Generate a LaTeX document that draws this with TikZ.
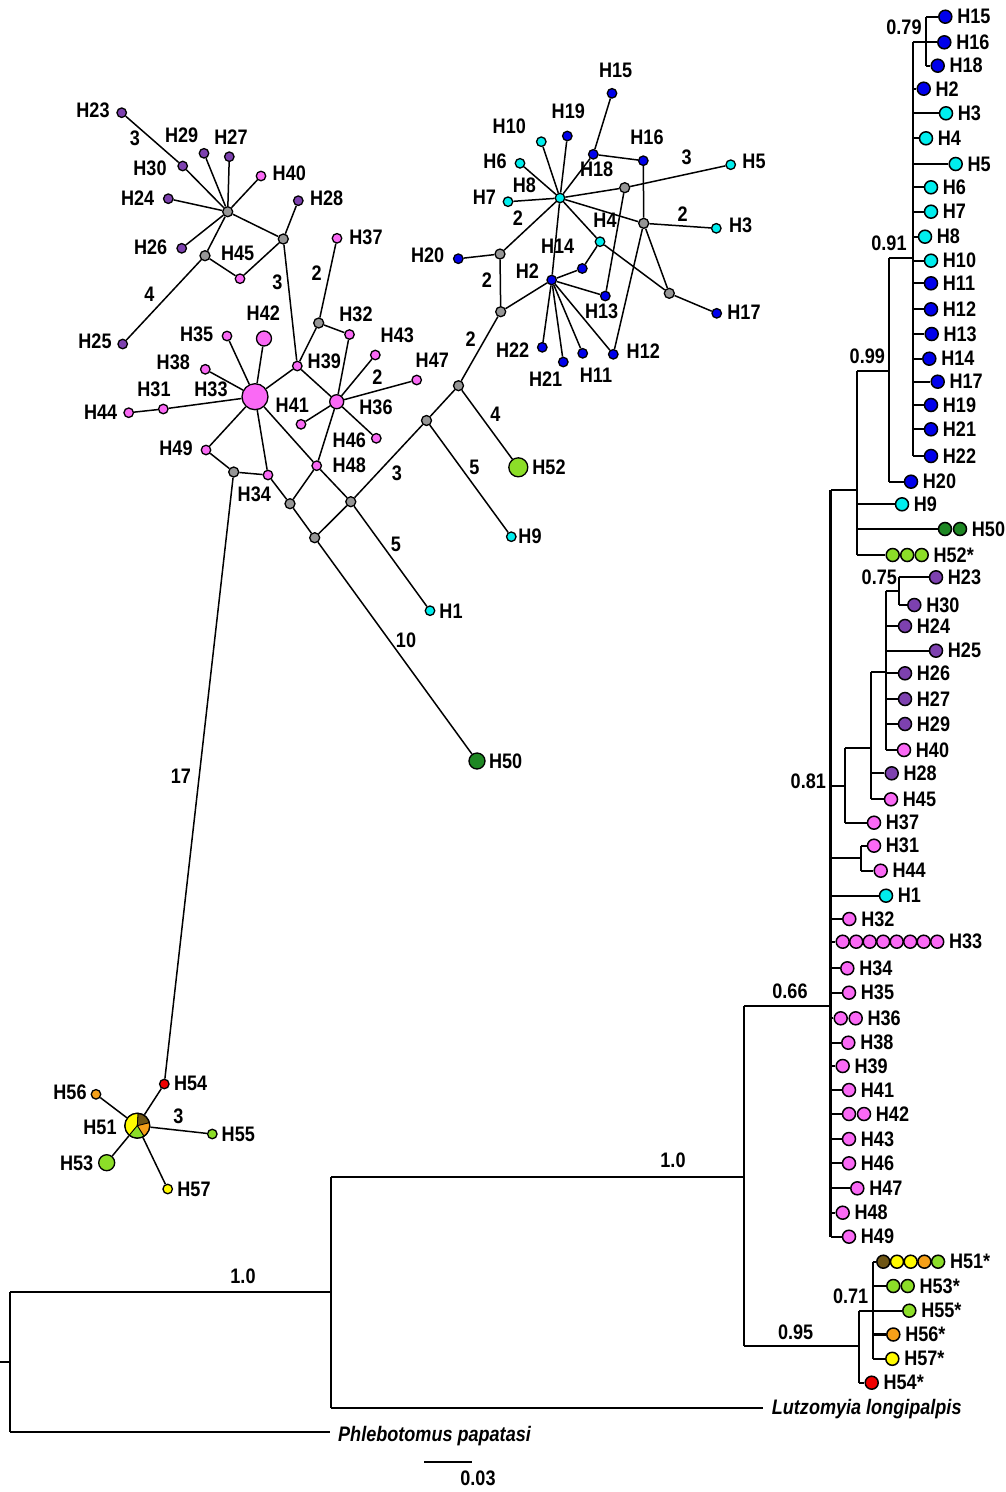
\documentclass[tikz,border=0pt]{standalone}
\usepackage{fontspec}
\newfontfamily\labfont{Liberation Sans}[FakeStretch=0.86]
\usetikzlibrary{backgrounds}
\definecolor{cblue}{RGB}{0,0,235}
\definecolor{ccyan}{RGB}{0,238,238}
\definecolor{cpurple}{RGB}{125,65,175}
\definecolor{cpink}{RGB}{250,105,245}
\definecolor{cgrey}{RGB}{150,150,150}
\definecolor{clime}{RGB}{140,222,40}
\definecolor{cdkgreen}{RGB}{30,135,35}
\definecolor{cred}{RGB}{240,0,0}
\definecolor{corange}{RGB}{245,160,25}
\definecolor{cyellow}{RGB}{255,250,0}
\definecolor{cbrown}{RGB}{110,85,20}
\tikzset{
  lbl/.style={font=\labfont\bfseries\fontsize{21}{23}\selectfont, inner sep=0pt},
  ilbl/.style={font=\labfont\bfseries\itshape\fontsize{21}{23}\selectfont, inner sep=0pt},
  hap/.style={circle, draw=black, line width=1.3pt, inner sep=0pt, minimum size=9.5pt},
  medv/.style={hap, fill=cgrey, minimum size=10pt},
  tipn/.style={circle, draw=black, line width=1.5pt, inner sep=0pt, minimum size=13pt},
  link/.style={line width=1.5pt},
  branch/.style={line width=2.3pt},
}
\begin{document}
\begin{tikzpicture}[x=1pt,y=-1pt]
\useasboundingbox (0,0) rectangle (1005,1492);

% ---------------- haplotype network: purple / pink part ----------------
\node[hap, fill=cpurple] (nH23) at (121.7,112.7) {};
\node[hap, fill=cpurple] (nH29) at (204,153.3) {};
\node[hap, fill=cpurple] (nH27) at (229.3,156.7) {};
\node[hap, fill=cpurple] (nH30) at (182.7,166) {};
\node[hap, fill=cpink]   (nH40) at (261,176) {};
\node[hap, fill=cpurple] (nH24) at (168.3,198.7) {};
\node[hap, fill=cpurple] (nH28) at (298.3,200.7) {};
\node[medv] (mA) at (227.7,211.7) {};
\node[hap, fill=cpurple] (nH26) at (181.7,248.3) {};
\node[medv] (mB) at (205,255.7) {};
\node[hap, fill=cpink]   (nH45) at (240,278.7) {};
\node[medv] (mC) at (283.3,239) {};
\node[hap, fill=cpink]   (nH37) at (337,238.3) {};
\node[hap, fill=cpurple] (nH25) at (122.7,344) {};
\node[medv] (mD) at (318.7,323) {};
\node[hap, fill=cpink]   (nH32) at (349.5,334.5) {};
\node[hap, fill=cpink]   (nH35) at (227,336) {};
\node[hap, fill=cpink, minimum size=15pt] (nH42) at (264,338.5) {};
\node[hap, fill=cpink]   (nH38) at (205.3,369.3) {};
\node[hap, fill=cpink, minimum size=26pt] (nH33) at (255,396.7) {};
\node[hap, fill=cpink]   (nH31) at (163.3,409) {};
\node[hap, fill=cpink]   (nH44) at (128.7,412.7) {};
\node[hap, fill=cpink]   (nH39) at (297.3,366) {};
\node[hap, fill=cpink]   (nH43) at (375.3,355) {};
\node[hap, fill=cpink]   (nH47) at (416.7,380) {};
\node[hap, fill=cpink, minimum size=14pt] (nH36) at (336.7,401.7) {};
\node[hap, fill=cpink]   (nH41) at (301,424.3) {};
\node[hap, fill=cpink]   (nH46) at (376.3,438.3) {};
\node[hap, fill=cpink]   (nH49) at (206,450) {};
\node[medv] (mE) at (233.7,472) {};
\node[hap, fill=cpink]   (nH34) at (268,475) {};
\node[hap, fill=cpink]   (nH48) at (316.7,465.7) {};
\node[medv] (mF) at (290,503.7) {};
\node[medv] (mG) at (350.8,501.7) {};
\node[medv] (mH) at (314.7,537.7) {};
\node[medv] (mI) at (426.5,420.5) {};
\node[medv] (mJ) at (458.5,385.7) {};
\node[hap, fill=clime, minimum size=19pt] (nH52) at (518.3,467.3) {};
\node[hap, fill=ccyan]   (nH9) at (511.3,536.7) {};
\node[hap, fill=ccyan]   (nH1) at (430,610.7) {};
\node[hap, fill=cdkgreen, minimum size=16pt] (nH50) at (477,761) {};

% ---------------- haplotype network: blue / cyan part ----------------
\node[hap, fill=cblue] (nH15) at (612,93.3) {};
\node[hap, fill=cblue] (nH19) at (567.3,136) {};
\node[hap, fill=ccyan] (nH10) at (541.3,141.7) {};
\node[hap, fill=ccyan] (nH6)  at (520,163.3) {};
\node[hap, fill=cblue] (nH18) at (593.3,154.3) {};
\node[hap, fill=cblue] (nH16) at (643.3,160.7) {};
\node[hap, fill=ccyan] (nH5)  at (730.7,164.7) {};
\node[hap, fill=ccyan] (nH8)  at (560,198) {};
\node[medv] (mK) at (624.7,187.7) {};
\node[hap, fill=ccyan] (nH7)  at (508,201.7) {};
\node[medv] (mL) at (643.7,223.3) {};
\node[hap, fill=ccyan] (nH3)  at (716.3,228.3) {};
\node[hap, fill=ccyan] (nH4)  at (600,241.7) {};
\node[hap, fill=cblue] (nH14) at (582.3,268.5) {};
\node[medv] (mM) at (500,254) {};
\node[hap, fill=cblue] (nH20) at (458.3,258.7) {};
\node[hap, fill=cblue] (nH2)  at (551.7,280) {};
\node[hap, fill=cblue] (nH13) at (605.3,296) {};
\node[medv] (mN) at (669.3,293.3) {};
\node[hap, fill=cblue] (nH17) at (716.7,313.3) {};
\node[medv] (mO) at (500.7,311.7) {};
\node[hap, fill=cblue] (nH22) at (542.3,347.3) {};
\node[hap, fill=cblue] (nH21) at (563.3,362) {};
\node[hap, fill=cblue] (nH11) at (582.7,353.3) {};
\node[hap, fill=cblue] (nH12) at (613.3,354.3) {};

% ---------------- haplotype network: lower group ----------------
\node[hap, fill=cred]    (nH54) at (164.3,1084) {};
\node[hap, fill=corange] (nH56) at (96,1094.3) {};
\coordinate (pie) at (137.3,1125.7);
\begin{scope}[draw=black, line width=0.8pt]
  \filldraw[fill=cyellow] (pie) -- ++(130:12.5) arc[start angle=130, end angle=274, radius=12.5] -- cycle;
  \filldraw[fill=cbrown]  (pie) -- ++(274:12.5) arc[start angle=274, end angle=346, radius=12.5] -- cycle;
  \filldraw[fill=corange] (pie) -- ++(-14:12.5) arc[start angle=-14, end angle=58, radius=12.5] -- cycle;
  \filldraw[fill=clime]   (pie) -- ++(58:12.5) arc[start angle=58, end angle=130, radius=12.5] -- cycle;
\end{scope}
\node[hap, minimum size=25pt] (nH51) at (pie) {};
\node[hap, fill=clime]   (nH55) at (212.3,1134) {};
\node[hap, fill=clime, minimum size=16pt] (nH53) at (106.7,1162.7) {};
\node[hap, fill=cyellow] (nH57) at (167.7,1189) {};

% network labels
\begin{scope}[every node/.style={lbl}]
\node (aH23) at (93,110.7) {H23};
\node (aH29) at (181.7,135.7) {H29};
\node (aH27) at (231,137.3) {H27};
\node (aH30) at (150,168.3) {H30};
\node (aH40) at (289.3,173.3) {H40};
\node (aH24) at (137.7,197.7) {H24};
\node (aH28) at (326.7,198.3) {H28};
\node (aH26) at (150.7,247.7) {H26};
\node (aH45) at (237.7,253.3) {H45};
\node (aH37) at (366,237) {H37};
\node (aH25) at (95,341) {H25};
\node (aH35) at (196.7,334) {H35};
\node (aH42) at (263.3,313) {H42};
\node (aH38) at (173.3,362.7) {H38};
\node (aH33) at (211,389) {H33};
\node (aH31) at (154,389.3) {H31};
\node (aH44) at (100.7,412.3) {H44};
\node (aH39) at (324.3,361.7) {H39};
\node (aH32) at (356,314.3) {H32};
\node (aH43) at (397.3,335.7) {H43};
\node (aH47) at (432.3,360) {H47};
\node (aH36) at (376,407.3) {H36};
\node (aH41) at (292.3,405) {H41};
\node (aH46) at (349.3,440.7) {H46};
\node (aH49) at (176,448.3) {H49};
\node (aH34) at (254.3,494) {H34};
\node (aH48) at (349.3,465.7) {H48};
\node (aH52) at (549,467.3) {H52};
\node (aH9)  at (530,536.7) {H9};
\node (aH1)  at (451,611) {H1};
\node (aH50) at (505.7,761) {H50};
\node (aH15) at (615.7,70) {H15};
\node (aH19) at (568.3,111) {H19};
\node (aH10) at (509.3,126.7) {H10};
\node (aH6)  at (495,161) {H6};
\node (aH18) at (596.7,169.3) {H18};
\node (aH16) at (647,137.7) {H16};
\node (aH5)  at (754,161) {H5};
\node (aH8)  at (524.3,185) {H8};
\node (aH7)  at (484.3,197.7) {H7};
\node (aH3)  at (740.7,225.7) {H3};
\node (aH4)  at (605,220.7) {H4};
\node (aH14) at (557.7,246.7) {H14};
\node (aH20) at (427.7,255.7) {H20};
\node (aH2)  at (527.3,271) {H2};
\node (aH13) at (601.7,311.7) {H13};
\node (aH17) at (744,312.7) {H17};
\node (aH22) at (512.7,350) {H22};
\node (aH21) at (545.7,379) {H21};
\node (aH11) at (596,375) {H11};
\node (aH12) at (643.3,350.7) {H12};
\node (aH54) at (190.7,1083.3) {H54};
\node (aH56) at (70,1092.3) {H56};
\node (aH51) at (100,1127.7) {H51};
\node (aH55) at (238.3,1134.7) {H55};
\node (aH53) at (76.7,1163.3) {H53};
\node (aH57) at (194,1189) {H57};
% mutation counts
\node (k1)  at (135,138.3) {3};
\node (k2)  at (149.3,294) {4};
\node (k3)  at (277.3,282.7) {3};
\node (k4)  at (316.7,272.7) {2};
\node (k5)  at (377.3,376.7) {2};
\node (k6)  at (495.5,414) {4};
\node (k7)  at (474.3,467.3) {5};
\node (k8)  at (397,473) {3};
\node (k9)  at (396,544.5) {5};
\node (k10) at (406,640) {10};
\node (k11) at (181,776) {17};
\node (k12) at (686.7,157.3) {3};
\node (k13) at (682.7,214) {2};
\node (k14) at (518,218.3) {2};
\node (k15) at (487,280.5) {2};
\node (k16) at (470.7,339.3) {2};
\node (k17) at (178.3,1116) {3};
\end{scope}

% ---------------- phylogenetic tree: tips ----------------
\node[tipn, fill=cblue] (tH15) at (945.3,16.7) {};
\node[tipn, fill=cblue] (tH16) at (944.3,42.3) {};
\node[tipn, fill=cblue] (tH18) at (937.7,65.7) {};
\node[tipn, fill=cblue] (tH2)  at (923.7,88.7) {};
\node[tipn, fill=ccyan] (tH3)  at (946,113.3) {};
\node[tipn, fill=ccyan] (tH4)  at (926,138.3) {};
\node[tipn, fill=ccyan] (tH5)  at (955.7,164) {};
\node[tipn, fill=ccyan] (tH6)  at (931,187.3) {};
\node[tipn, fill=ccyan] (tH7)  at (931,211.7) {};
\node[tipn, fill=ccyan] (tH8)  at (925,236.7) {};
\node[tipn, fill=ccyan] (tH10) at (931,260.7) {};
\node[tipn, fill=cblue] (tH11) at (931,283.3) {};
\node[tipn, fill=cblue] (tH12) at (931,309.3) {};
\node[tipn, fill=cblue] (tH13) at (931.7,334) {};
\node[tipn, fill=cblue] (tH14) at (929.3,358.7) {};
\node[tipn, fill=cblue] (tH17) at (937.7,381.7) {};
\node[tipn, fill=cblue] (tH19) at (931,405) {};
\node[tipn, fill=cblue] (tH21) at (931,429.3) {};
\node[tipn, fill=cblue] (tH22) at (931,456) {};
\node[tipn, fill=cblue] (tH20) at (911,481.7) {};
\node[tipn, fill=ccyan] (tH9)  at (902,504.3) {};
\node[tipn, fill=cdkgreen] (tH50a) at (945,529) {};
\node[tipn, fill=cdkgreen] (tH50b) at (960,529) {};
\node[tipn, fill=clime] (tH52a) at (892.7,555) {};
\node[tipn, fill=clime] (tH52b) at (907.2,555) {};
\node[tipn, fill=clime] (tH52c) at (921.7,555) {};
\node[tipn, fill=cpurple] (tH23) at (936,577.3) {};
\node[tipn, fill=cpurple] (tH30) at (914.3,605) {};
\node[tipn, fill=cpurple] (tH24) at (905,626) {};
\node[tipn, fill=cpurple] (tH25) at (936,650.7) {};
\node[tipn, fill=cpurple] (tH26) at (905,673.3) {};
\node[tipn, fill=cpurple] (tH27) at (905,699) {};
\node[tipn, fill=cpurple] (tH29) at (905,724) {};
\node[tipn, fill=cpink]   (tH40) at (904,750) {};
\node[tipn, fill=cpurple] (tH28) at (891.7,773.3) {};
\node[tipn, fill=cpink]   (tH45) at (891,799.3) {};
\node[tipn, fill=cpink]   (tH37) at (874,822.7) {};
\node[tipn, fill=cpink]   (tH31) at (874,845.7) {};
\node[tipn, fill=cpink]   (tH44) at (880.7,870.7) {};
\node[tipn, fill=ccyan]   (tH1)  at (886,895.7) {};
\node[tipn, fill=cpink]   (tH32) at (849.3,919) {};
\foreach \i/\xx in {a/842.7,b/856.2,c/869.7,d/883.2,e/896.7,f/910.2,g/923.7,h/937.2}
  \node[tipn, fill=cpink] (tH33\i) at (\xx,941.7) {};
\node[tipn, fill=cpink] (tH34) at (847.3,968.3) {};
\node[tipn, fill=cpink] (tH35) at (849,992.7) {};
\node[tipn, fill=cpink] (tH36a) at (840.7,1018.3) {};
\node[tipn, fill=cpink] (tH36b) at (855.7,1018.3) {};
\node[tipn, fill=cpink] (tH38) at (848.3,1042.7) {};
\node[tipn, fill=cpink] (tH39) at (842.7,1066) {};
\node[tipn, fill=cpink] (tH41) at (849,1090) {};
\node[tipn, fill=cpink] (tH42a) at (849,1114) {};
\node[tipn, fill=cpink] (tH42b) at (864,1114) {};
\node[tipn, fill=cpink] (tH43) at (849,1139) {};
\node[tipn, fill=cpink] (tH46) at (849,1163.3) {};
\node[tipn, fill=cpink] (tH47) at (857.3,1188.3) {};
\node[tipn, fill=cpink] (tH48) at (842.7,1212.7) {};
\node[tipn, fill=cpink] (tH49) at (849,1236.7) {};
\node[tipn, fill=cbrown]  (tH51a) at (883.3,1261.7) {};
\node[tipn, fill=cyellow] (tH51b) at (897,1261.7) {};
\node[tipn, fill=cyellow] (tH51c) at (910.7,1261.7) {};
\node[tipn, fill=corange] (tH51d) at (924.4,1261.7) {};
\node[tipn, fill=clime]   (tH51e) at (938.1,1261.7) {};
\node[tipn, fill=clime]   (tH53a) at (893.3,1286) {};
\node[tipn, fill=clime]   (tH53b) at (907.7,1286) {};
\node[tipn, fill=clime]   (tH55) at (909.3,1310.7) {};
\node[tipn, fill=corange] (tH56) at (893.3,1334.5) {};
\node[tipn, fill=cyellow] (tH57) at (892.3,1358.8) {};
\node[tipn, fill=cred]    (tH54) at (871.7,1382.7) {};

% tip labels
\begin{scope}[every node/.style={lbl, anchor=west}]
\foreach \t/\s in {tH15/H15,tH16/H16,tH18/H18,tH2/H2,tH3/H3,tH4/H4,tH5/H5,tH6/H6,tH7/H7,tH8/H8,
  tH10/H10,tH11/H11,tH12/H12,tH13/H13,tH14/H14,tH17/H17,tH19/H19,tH21/H21,tH22/H22,tH20/H20,
  tH9/H9,tH50b/H50,tH52c/H52*,tH23/H23,tH30/H30,tH24/H24,tH25/H25,tH26/H26,tH27/H27,tH29/H29,
  tH40/H40,tH28/H28,tH45/H45,tH37/H37,tH31/H31,tH44/H44,tH1/H1,tH32/H32,tH33h/H33,tH34/H34,
  tH35/H35,tH36b/H36,tH38/H38,tH39/H39,tH41/H41,tH42b/H42,tH43/H43,tH46/H46,tH47/H47,tH48/H48,
  tH49/H49,tH51e/H51*,tH53b/H53*,tH55/H55*,tH56/H56*,tH57/H57*,tH54/H54*}
  \node (b\t) at ([xshift=4.5pt]\t.east) {\s};
\end{scope}

% internal tree vertices
\coordinate (c079) at (926,42.3);
\coordinate (c091) at (912.7,258.3);
\coordinate (c099) at (889.3,370.7);
\coordinate (cB)   at (857.3,490);
\coordinate (c066) at (830.5,1006);
\coordinate (c081) at (845,786);
\coordinate (cQ)   at (870.7,748.3);
\coordinate (cP)   at (886,671.7);
\coordinate (c075) at (899.3,591);
\coordinate (cR)   at (861,858.3);
\coordinate (c10a) at (744.3,1176.7);
\coordinate (c095) at (859.3,1346);
\coordinate (c071) at (872.7,1310.7);
\coordinate (c10b) at (331,1292);
\coordinate (croot) at (10,1362);
\coordinate (rstub) at (0,1362);
\coordinate (lutz) at (763.3,1408.3);
\coordinate (phleb) at (330,1432);
\coordinate (sbL) at (424,1462);
\coordinate (sbR) at (472,1462);

% support values and taxon names
\begin{scope}[every node/.style={lbl}]
\node (s079) at (904,27.3) {0.79};
\node (s091) at (889,243) {0.91};
\node (s099) at (867.3,356) {0.99};
\node (s075) at (879.3,577.3) {0.75};
\node (s081) at (808.3,781.7) {0.81};
\node (s066) at (790,991.7) {0.66};
\node (s10a) at (673,1160) {1.0};
\node (s095) at (795.7,1332.7) {0.95};
\node (s071) at (850.7,1296.7) {0.71};
\node (s10b) at (243,1276) {1.0};
\node (sbar) at (478,1478) {0.03};
\end{scope}
\node[ilbl, anchor=base west] (tLutz) at (771.7,1414.5) {Lutzomyia longipalpis};
\node[ilbl, anchor=base west] (tPhleb) at (338,1441) {Phlebotomus papatasi};

\begin{pgfonlayer}{background}
% network connections
\begin{scope}[link]
\draw (nH23) -- (nH30);  \draw (nH30) -- (mA); \draw (nH29) -- (mA); \draw (nH27) -- (mA);
\draw (nH40) -- (mA);    \draw (nH24) -- (mA); \draw (nH26) -- (mA); \draw (mA) -- (mB);
\draw (mA) -- (mC);      \draw (mB) -- (nH45); \draw (nH45) -- (mC); \draw (mC) -- (nH28);
\draw (mB) -- (nH25);    \draw (mC) -- (nH39); \draw (mD) -- (nH37); \draw (mD) -- (nH39);
\draw (mD) -- (nH32);    \draw (nH32) -- (nH36); \draw (nH39) -- (nH36); \draw (nH33) -- (nH39);
\draw (nH33) -- (nH35);  \draw (nH33) -- (nH42); \draw (nH33) -- (nH38); \draw (nH33) -- (nH31);
\draw (nH31) -- (nH44);  \draw (nH33) -- (nH49); \draw (nH33) -- (nH34); \draw (nH33) -- (nH48);
\draw (nH48) -- (mG);    \draw (nH36) -- (nH43); \draw (nH36) -- (nH47); \draw (nH36) -- (nH41);
\draw (nH36) -- (nH46);  \draw (nH36) -- (nH48); \draw (nH48) -- (mF); \draw (nH49) -- (mE);
\draw (mE) -- (nH34);    \draw (nH34) -- (mF); \draw (mF) -- (mH); \draw (mH) -- (mG);
\draw (mG) -- (mI);      \draw (mG) -- (nH1); \draw (mH) -- (nH50); \draw (mI) -- (mJ);
\draw (mI) -- (nH9);     \draw (mJ) -- (nH52); \draw (mJ) -- (mO); \draw (mO) -- (mM);
\draw (mM) -- (nH20);    \draw (mM) -- (nH8); \draw (mO) -- (nH2);
\draw (nH8) -- (nH6);    \draw (nH8) -- (nH10); \draw (nH8) -- (nH19); \draw (nH8) -- (nH18);
\draw (nH8) -- (nH7);    \draw (nH8) -- (mK); \draw (nH8) -- (mL); \draw (nH8) -- (nH4);
\draw (nH8) -- (nH2);    \draw (nH15) -- (nH18); \draw (nH18) -- (nH16); \draw (nH16) -- (mL);
\draw (mK) -- (nH5);     \draw (mK) -- (nH13); \draw (mL) -- (nH3); \draw (mL) -- (mN);
\draw (mL) -- (nH12);    \draw (nH4) -- (nH14); \draw (nH4) -- (mN); \draw (mN) -- (nH17);
\draw (nH2) -- (nH14);   \draw (nH2) -- (nH13); \draw (nH2) -- (nH22); \draw (nH2) -- (nH21);
\draw (nH2) -- (nH11);   \draw (nH2) -- (nH12);
\draw (mE) -- (nH54);    \draw (nH54) -- (nH51); \draw (nH56) -- (nH51); \draw (nH51) -- (nH55);
\draw (nH51) -- (nH53);  \draw (nH51) -- (nH57);
\end{scope}

% tree branches
\begin{scope}[branch]
% clade 0.79
\draw (c079 |- tH15) -- (c079 |- tH18);
\draw (c079 |- tH15) -- (tH15);
\draw (c079 |- tH18) -- (tH18);
\draw (c079 -| c091) -- (tH16);
% clade 0.91
\draw (c091 |- c079) -- (c091 |- tH22);
\foreach \t in {tH2,tH3,tH4,tH5,tH6,tH7,tH8,tH10,tH11,tH12,tH13,tH14,tH17,tH19,tH21,tH22}
  \draw (c091 |- \t) -- (\t);
\draw (c091) -- (c091 -| c099);
% clade 0.99
\draw (c099 |- c091) -- (c099 |- tH20);
\draw (c099 |- tH20) -- (tH20);
\draw (c099) -- (c099 -| cB);
% clade with H9, H50, H52
\draw (cB |- c099) -- (cB |- tH52a);
\foreach \t in {tH9,tH50a,tH52a} \draw (cB |- \t) -- (\t);
\draw (cB) -- (cB -| c066);
% clade 0.75 and purple group
\draw (c075 |- tH23) -- (c075 |- tH30);
\draw (c075 |- tH23) -- (tH23);
\draw (c075 |- tH30) -- (tH30);
\draw (c075) -- (c075 -| cP);
\draw (cP |- c075) -- (cP |- tH40);
\foreach \t in {tH24,tH25,tH26,tH27,tH29,tH40} \draw (cP |- \t) -- (\t);
\draw (cP) -- (cP -| cQ);
\draw (cQ |- cP) -- (cQ |- tH45);
\foreach \t in {tH28,tH45} \draw (cQ |- \t) -- (\t);
\draw (cQ) -- (cQ -| c081);
\draw (c081 |- cQ) -- (c081 |- tH37);
\draw (c081 |- tH37) -- (tH37);
\draw (c081) -- (c081 -| c066);
% H31 + H44
\draw (cR |- tH31) -- (cR |- tH44);
\draw (cR |- tH31) -- (tH31);
\draw (cR |- tH44) -- (tH44);
\draw (cR) -- (cR -| c066);
% main clade 0.66
\draw (c066 |- cB) -- (c066 |- tH49);
\foreach \t in {tH1,tH32,tH33a,tH34,tH35,tH36a,tH38,tH39,tH41,tH42a,tH43,tH46,tH47,tH48,tH49}
  \draw (c066 |- \t) -- (\t);
\draw (c066) -- (c066 -| c10a);
% clade 0.71 / 0.95
\draw (c071 |- tH51a) -- (c071 |- tH57);
\foreach \t in {tH51a,tH53a,tH55,tH56,tH57} \draw (c071 |- \t) -- (\t);
\draw (c071) -- (c071 -| c095);
\draw (c095 |- c071) -- (c095 |- tH54);
\draw (c095 |- tH54) -- (tH54);
\draw (c095) -- (c095 -| c10a);
% deeper nodes and outgroups
\draw (c10a |- c066) -- (c10a |- c095);
\draw (c10a) -- (c10a -| c10b);
\draw (c10b |- c10a) -- (c10b |- lutz);
\draw (c10b |- lutz) -- (lutz);
\draw (c10b) -- (c10b -| croot);
\draw (croot |- c10b) -- (croot |- phleb);
\draw (croot |- phleb) -- (phleb);
\draw (rstub) -- (croot);
% scale bar
\draw (sbL) -- (sbR);
\end{scope}
\end{pgfonlayer}
\end{tikzpicture}
\end{document}
